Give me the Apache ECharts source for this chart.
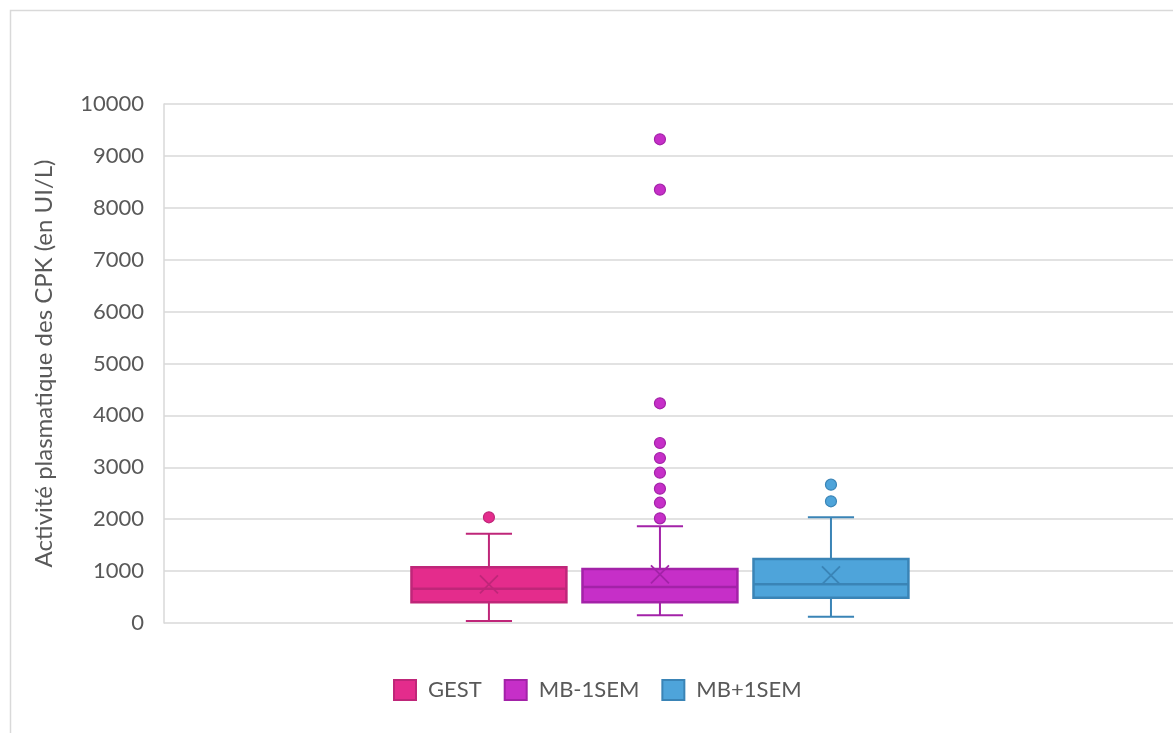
<!DOCTYPE html>
<html><head><meta charset="utf-8">
<script src="https://cdn.jsdelivr.net/npm/echarts@6/dist/echarts.min.js"></script>
<style>html,body{margin:0;padding:0;background:#fff}#c{width:1173px;height:733px}</style>
</head><body><div id="c"></div>
<script>
// Data
const seriesNames = ['GEST', 'MB-1SEM', 'MB+1SEM'];
const positions = [1, 2, 3];
// [min whisker, Q1, median, Q3, max whisker, mean]
const GEST = [38, 399, 661, 1073, 1721, 745];
const MB_1SEM = [148, 399, 694, 1040, 1863, 938];
const MB_P1SEM = [122, 488, 745, 1233, 2037, 919];
const outliersGEST = [2037];
const outliersMB_1SEM = [9320, 8349, 4233, 3468, 3179, 2896, 2588, 2318, 2017];
const outliersMB_P1SEM = [2665, 2345];
const yTicks = [0, 1000, 2000, 3000, 4000, 5000, 6000, 7000, 8000, 9000, 10000];

const fills = ['#E42C8C', '#C62FC8', '#4EA4DA'];
const borders = ['#BF2679', '#A322A8', '#3A84B6'];
const stats = [GEST, MB_1SEM, MB_P1SEM];
const outliers = [outliersGEST, outliersMB_1SEM, outliersMB_P1SEM];
const FONT = 'Lato';

function renderBox(fill, border) {
  return function (params, api) {
    const x = api.value(0);
    const pMin = api.coord([x, api.value(1)]);
    const pQ1 = api.coord([x, api.value(2)]);
    const pMed = api.coord([x, api.value(3)]);
    const pQ3 = api.coord([x, api.value(4)]);
    const pMax = api.coord([x, api.value(5)]);
    const pMean = api.coord([x, api.value(6)]);
    const unit = api.size([1, 0])[0];
    const bw = unit * 0.906;
    const cw = unit * 0.27;
    const cx = pMed[0];
    const lw = 2;
    const ln = (x1, y1, x2, y2, w) => ({
      type: 'line', shape: { x1, y1, x2, y2 },
      style: { stroke: border, lineWidth: w || lw, fill: null }
    });
    const m = 9;
    return {
      type: 'group',
      children: [
        ln(cx, pQ3[1], cx, pMax[1]),
        ln(cx, pMin[1], cx, pQ1[1]),
        ln(cx - cw / 2, pMax[1], cx + cw / 2, pMax[1]),
        ln(cx - cw / 2, pMin[1], cx + cw / 2, pMin[1]),
        {
          type: 'rect',
          shape: { x: cx - bw / 2, y: pQ3[1], width: bw, height: pQ1[1] - pQ3[1] },
          style: { fill: fill, stroke: border, lineWidth: 2.5 }
        },
        ln(cx - bw / 2, pMed[1], cx + bw / 2, pMed[1], 2.5),
        ln(pMean[0] - m, pMean[1] - m, pMean[0] + m, pMean[1] + m, 1.8),
        ln(pMean[0] - m, pMean[1] + m, pMean[0] + m, pMean[1] - m, 1.8)
      ]
    };
  };
}

const series = [];
seriesNames.forEach((name, i) => {
  const s = stats[i];
  series.push({
    name: name,
    type: 'custom',
    itemStyle: { color: fills[i], borderColor: borders[i] },
    renderItem: renderBox(fills[i], borders[i]),
    data: [[positions[i], s[0], s[1], s[2], s[3], s[4], s[5]]],
    encode: { x: 0, y: [1, 2, 3, 4, 5, 6] },
    z: 2
  });
  series.push({
    name: name,
    type: 'scatter',
    symbol: 'circle',
    symbolSize: 11,
    itemStyle: { color: fills[i], borderColor: borders[i], borderWidth: 1.2, opacity: 1 },
    data: outliers[i].map(v => [positions[i], v]),
    z: 3
  });
});

const chart = echarts.init(document.getElementById('c'), null, { renderer: 'canvas' });
chart.setOption({
  animation: false,
  backgroundColor: '#fff',
  textStyle: { fontFamily: FONT },
  graphic: [{
    type: 'rect', silent: true, z: -10,
    shape: { x: 10.5, y: 10.5, width: 1300, height: 900 },
    style: { fill: null, stroke: '#d9d9d9', lineWidth: 1.5 }
  }],
  grid: { left: 164, right: 0, top: 104, bottom: 110, containLabel: false },
  xAxis: {
    type: 'value', min: -0.9, max: 5.0,
    show: true,
    axisLine: { show: false }, axisTick: { show: false },
    axisLabel: { show: false }, splitLine: { show: false }
  },
  yAxis: {
    type: 'value', min: yTicks[0], max: yTicks[yTicks.length - 1], interval: 1000,
    name: 'Activité plasmatique des CPK (en UI/L)',
    nameLocation: 'middle', nameRotate: 90, nameGap: 108,
    nameTextStyle: { fontFamily: FONT, fontSize: 24, color: '#595959' },
    axisLine: { show: true, onZero: false, lineStyle: { color: '#d9d9d9', width: 1.5 } },
    axisTick: { show: false },
    axisLabel: { fontFamily: FONT, fontSize: 22, color: '#595959', margin: 20,
      formatter: v => String(v) },
    splitLine: { show: true, lineStyle: { color: '#d9d9d9', width: 1.5 } }
  },
  legend: {
    left: 388, top: 674,
    itemWidth: 22, itemHeight: 20, itemGap: 22,
    icon: 'rect',
    textStyle: { fontFamily: FONT, fontSize: 22, color: '#595959', padding: [0, 0, 0, 7] },
    data: seriesNames.map((n, i) => ({
      name: n, icon: 'rect',
      itemStyle: { color: fills[i], borderColor: borders[i], borderWidth: 2 }
    }))
  },
  series: series
});
</script></body></html>
